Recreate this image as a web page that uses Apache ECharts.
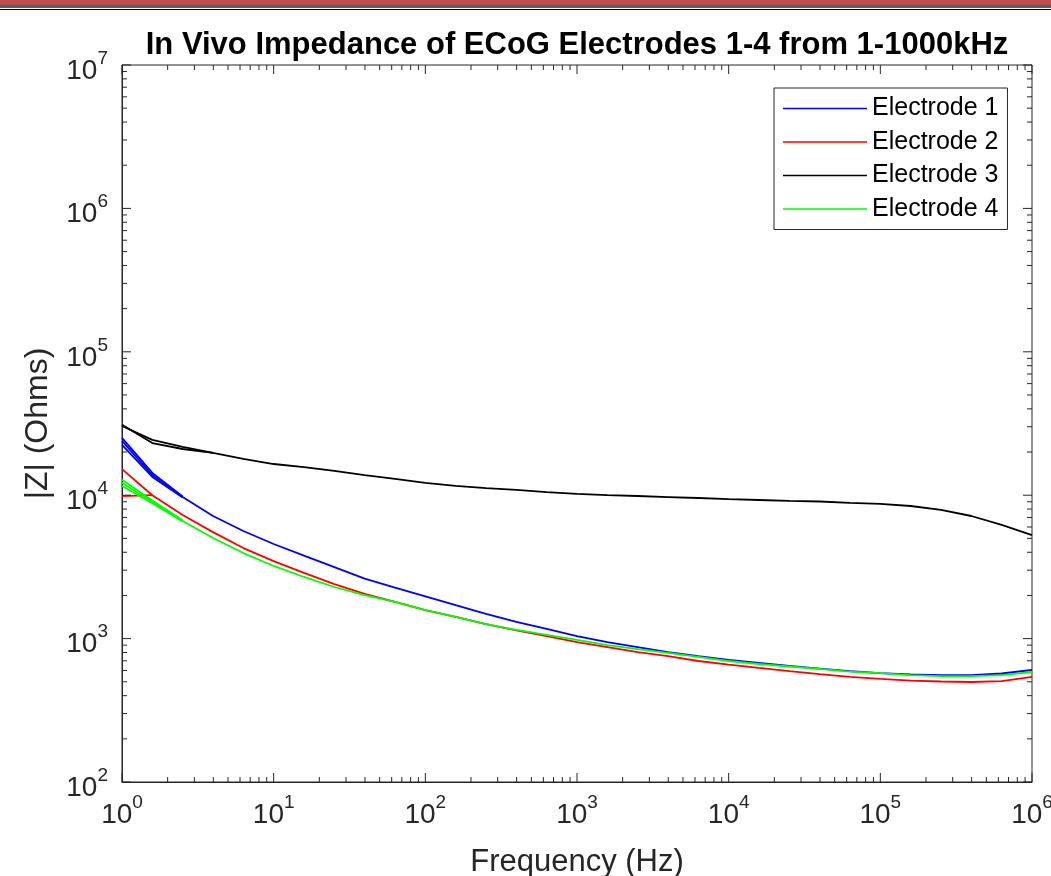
<!DOCTYPE html>
<html><head><meta charset="utf-8">
<script src="https://cdn.jsdelivr.net/npm/echarts@6/dist/echarts.min.js"></script>
<style>html,body{margin:0;padding:0;background:#fff}#c{width:1051px;height:876px}</style>
</head><body><div id="c"></div>
<script>
// ---- data ----
const freqHz = [1, 1.585, 2.512, 3.981, 6.31, 10, 15.85, 25.12, 39.81, 63.1,
  100, 158.5, 251.2, 398.1, 631, 1000, 1585, 2512, 3981, 6310,
  10000, 15850, 25120, 39810, 63100, 100000, 158500, 251200, 398100, 631000, 1000000];

const electrode1 = [23900, 13800, 9710, 7160, 5630, 4570, 3790, 3150, 2620, 2270,
  1970, 1710, 1490, 1310, 1170, 1040, 946, 873, 806, 756,
  710, 676, 644, 618, 594, 575, 562, 557, 557, 571, 604];
const electrode1Extra = [[25100, 14300, 9800], [22400, 13400, 9650]];

const electrode2 = [15200, 10000, 7270, 5530, 4280, 3470, 2870, 2400, 2050, 1800,
  1580, 1420, 1260, 1140, 1040, 946, 873, 806, 756, 698,
  659, 624, 594, 566, 540, 523, 510, 502, 498, 506, 540];
const electrode2Extra = [[9860, 10000]];

const electrode3 = [30400, 24300, 21700, 19700, 17900, 16500, 15700, 14800, 13800, 13000,
  12200, 11600, 11200, 10900, 10500, 10200, 10000, 9870, 9710, 9560,
  9400, 9260, 9120, 9040, 8830, 8690, 8410, 7890, 7160, 6200, 5270];
const electrode3Extra = [[31000, 23100, 21000, 19700]];

const electrode4 = [12200, 8980, 6610, 5030, 3950, 3210, 2690, 2290, 2010, 1800,
  1580, 1420, 1260, 1150, 1060, 978, 902, 845, 794, 745,
  698, 665, 639, 614, 589, 575, 557, 548, 548, 557, 585];
const electrode4Extra = [[12800, 9200, 6700], [11600, 8800, 6550]];

const seriesNames = ['Electrode 1', 'Electrode 2', 'Electrode 3', 'Electrode 4'];
const seriesColors = ['#0000ff', '#ff0000', '#000000', '#00ff00'];
const xTickExponents = [0, 1, 2, 3, 4, 5, 6];
const yTickExponents = [2, 3, 4, 5, 6, 7];
const minorMultipliers = [2, 3, 4, 5, 6, 7, 8, 9];
const titleText = 'In Vivo Impedance of ECoG Electrodes 1-4 from 1-1000kHz';
const xName = 'Frequency (Hz)';
const yName = '|Z| (Ohms)';

// ---- build ----
const X_MIN = Math.pow(10, xTickExponents[0]), X_MAX = Math.pow(10, xTickExponents[xTickExponents.length - 1]);
const Y_MIN = Math.pow(10, yTickExponents[0]), Y_MAX = Math.pow(10, yTickExponents[yTickExponents.length - 1]);
const AX = '#262626';

function pairs(vals) { return vals.map((v, i) => [freqHz[i], v]); }

const mains = [electrode1, electrode2, electrode3, electrode4];
const extras = [electrode1Extra, electrode2Extra, electrode3Extra, electrode4Extra];
const series = [];
mains.forEach((arr, idx) => {
  const all = [arr].concat(extras[idx]);
  all.forEach(a => {
    series.push({
      type: 'line', name: seriesNames[idx], data: pairs(a),
      showSymbol: false, symbol: 'none', smooth: false, animation: false,
      lineStyle: { color: seriesColors[idx], width: 1.8 },
      itemStyle: { color: seriesColors[idx] }, z: 2 + idx
    });
  });
});

// tick marks (major + minor) on all four sides, positioned through the axes
const tickData = [];
for (let i = 0; i < xTickExponents.length; i++) {
  const d = Math.pow(10, xTickExponents[i]);
  tickData.push([d, Y_MIN, 0, 9]);
  if (i < xTickExponents.length - 1) minorMultipliers.forEach(m => tickData.push([m * d, Y_MIN, 0, 5]));
}
for (let i = 0; i < yTickExponents.length; i++) {
  const d = Math.pow(10, yTickExponents[i]);
  tickData.push([X_MIN, d, 1, 9]);
  if (i < yTickExponents.length - 1) minorMultipliers.forEach(m => tickData.push([X_MIN, m * d, 1, 5]));
}
series.push({
  type: 'custom', silent: true, animation: false, z: 20, clip: false,
  data: tickData,
  renderItem: function (params, api) {
    const kind = api.value(2), len = api.value(3);
    const st = { stroke: AX, lineWidth: 1 };
    if (kind === 0) {
      const v = api.value(0);
      const b = api.coord([v, Y_MIN]), t = api.coord([v, Y_MAX]);
      return { type: 'group', children: [
        { type: 'line', shape: { x1: b[0], y1: b[1], x2: b[0], y2: b[1] - len }, style: st },
        { type: 'line', shape: { x1: t[0], y1: t[1], x2: t[0], y2: t[1] + len }, style: st }
      ] };
    } else {
      const v = api.value(1);
      const l = api.coord([X_MIN, v]), r = api.coord([X_MAX, v]);
      return { type: 'group', children: [
        { type: 'line', shape: { x1: l[0], y1: l[1], x2: l[0] + len, y2: l[1] }, style: st },
        { type: 'line', shape: { x1: r[0], y1: r[1], x2: r[0] - len, y2: r[1] }, style: st }
      ] };
    }
  }
});

const FONT = '"Liberation Sans", Arial, Helvetica, sans-serif';
function powLabel(v) {
  const e = Math.round(Math.log10(v));
  return '{b|10}{s|' + e + '}';
}
function makeRich(supPad) {
  return {
    b: { fontSize: 28, lineHeight: 28, fontFamily: FONT, color: AX, verticalAlign: 'bottom' },
    s: { fontSize: 19, lineHeight: 19, fontFamily: FONT, color: AX, verticalAlign: 'bottom', padding: [0, 0, supPad, 0] }
  };
}

const chart = echarts.init(document.getElementById('c'), null, { renderer: 'canvas' });
chart.setOption({
  backgroundColor: '#ffffff',
  animation: false,
  graphic: [
    { type: 'rect', shape: { x: 0, y: 0, width: 1051, height: 5 }, style: { fill: '#c0504d' }, silent: true },
    { type: 'rect', shape: { x: 0, y: 5, width: 1051, height: 3 }, style: { fill: '#46628f' }, silent: true },
    { type: 'rect', shape: { x: 0, y: 9, width: 1051, height: 1 }, style: { fill: '#000000' }, silent: true },
    { type: 'text', x: 577, y: 45, silent: true,
      style: { text: titleText, font: 'bold 31px ' + FONT, fill: '#000000', align: 'center', verticalAlign: 'middle' } }
  ],
  grid: { left: 122, right: 19, top: 65, bottom: 94, containLabel: false, outerBoundsMode: 'none',
    show: true, borderColor: AX, borderWidth: 1, backgroundColor: '#ffffff' },
  legend: {
    data: seriesNames, orient: 'vertical', left: 774, top: 88,
    padding: [8, 9, 8, 9], itemGap: 8.5, itemWidth: 84, itemHeight: 1.6, icon: 'rect',
    backgroundColor: '#ffffff', borderColor: AX, borderWidth: 1, borderRadius: 0,
    textStyle: { fontSize: 25, lineHeight: 25, fontFamily: FONT, color: '#000000' },
    selectedMode: false
  },
  xAxis: {
    type: 'log', logBase: 10, min: X_MIN, max: X_MAX, splitNumber: 6,
    name: xName, nameLocation: 'middle', nameGap: 65,
    nameTextStyle: { fontSize: 31, fontFamily: FONT, color: AX },
    axisLine: { show: true, lineStyle: { color: AX, width: 1 } },
    axisTick: { show: false }, minorTick: { show: false },
    splitLine: { show: false },
    axisLabel: { show: true, margin: 19, formatter: powLabel, rich: makeRich(17), showMinLabel: true, showMaxLabel: true }
  },
  yAxis: {
    type: 'log', logBase: 10, min: Y_MIN, max: Y_MAX, splitNumber: 5,
    name: yName, nameLocation: 'middle', nameGap: 68, nameRotate: 90,
    nameTextStyle: { fontSize: 32, fontFamily: FONT, color: AX },
    axisLine: { show: true, lineStyle: { color: AX, width: 1 } },
    axisTick: { show: false }, minorTick: { show: false },
    splitLine: { show: false },
    axisLabel: { show: true, margin: 14, padding: [12, 0, 0, 0], formatter: powLabel, rich: makeRich(17), showMinLabel: true, showMaxLabel: true }
  },
  series: series
});
</script>
</body></html>
